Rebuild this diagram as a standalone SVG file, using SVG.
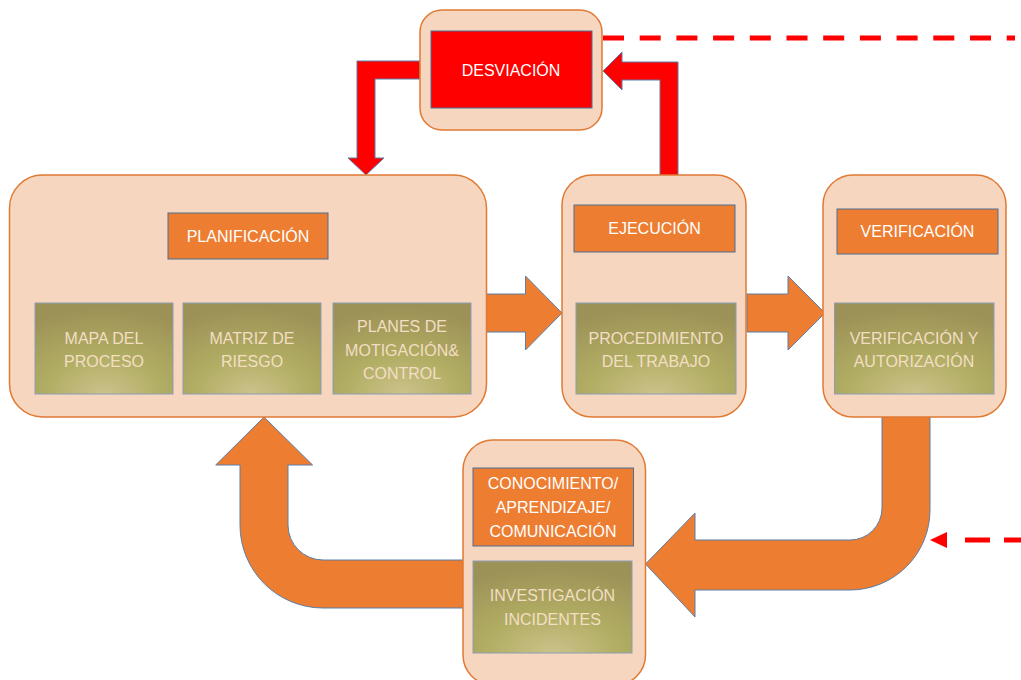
<svg xmlns="http://www.w3.org/2000/svg" width="1021" height="680" viewBox="0 0 1021 680">
<defs>
<radialGradient id="olive" cx="50%" cy="100%" r="95%" fx="50%" fy="100%">
<stop offset="0" stop-color="#CCC28B"/>
<stop offset="0.45" stop-color="#B1AD63"/>
<stop offset="1" stop-color="#9C9157"/>
</radialGradient>
<style>
.cont{fill:#F6D6BE;stroke:#E07A35;stroke-width:1.5}
.hdr{fill:#ED7D31;stroke:#4F6F96;stroke-width:1}
.sub{fill:url(#olive);stroke:#8C9DB5;stroke-width:1}
.oarr{fill:#ED7D31;stroke:#5B7FA8;stroke-width:1}
.rarr{fill:#FF0000;stroke:#5B7FA8;stroke-width:1}
.dash{fill:none;stroke:#FF0000;stroke-width:5}
text{font-family:"Liberation Sans",Arial,sans-serif;font-size:16px;text-anchor:middle}
.wt{fill:#FFFFFF}
.lt{fill:#F3DEC4}
</style>
</defs>
<rect width="1021" height="680" fill="#FFFFFF"/>
<g id="connectors">
<path class="dash" d="M603,38 L1015,38" stroke-dasharray="21 15.7"/>
<path class="dash" d="M1029,540 L951,540" stroke-dasharray="25 14"/>
<polygon points="930,540 947,532 947,548" fill="#FF0000"/>
<path class="rarr" d="M420,61 L357,61 L357,158 L348,158 L366,175 L384,158 L375,158 L375,79 L420,79 Z"/>
<path class="rarr" d="M660,176 L660,80 L622,80 L622,90 L603,71 L622,52 L622,62 L678,62 L678,176 Z"/>
<path class="oarr" d="M485,294 L525.5,294 L525.5,276 L562,313 L525.5,350 L525.5,332 L485,332 Z"/>
<path class="oarr" d="M747,294 L788,294 L788,276 L825,313 L788,350 L788,332 L747,332 Z"/>
<path class="oarr" d="M882,414 L930,414 L930,510 A80,80 0 0 1 850,590 L695,590 L695,617 L645.5,564 L695,513 L695,540 L850,540 A32,32 0 0 0 882,508 Z"/>
<path class="oarr" d="M470,560 L323,560 A35,35 0 0 1 288,525 L288,465 L312.6,465 L264,417 L215.7,465 L240,465 L240,525 A83,83 0 0 0 323,608 L470,608 Z"/>
</g>
<g id="desviacion">
<rect class="cont" x="420" y="10" width="182" height="120" rx="22"/>
<rect x="431" y="31" width="161" height="77" fill="#FF0000" stroke="#4F6F96" stroke-width="1"/>
<text class="wt" x="511" y="76">DESVIACIÓN</text>
</g>
<g id="planificacion">
<rect class="cont" x="9.5" y="175" width="477" height="242" rx="33"/>
<rect class="hdr" x="168" y="213" width="160" height="46"/>
<text class="wt" x="248" y="242">PLANIFICACIÓN</text>
<rect class="sub" x="35" y="303" width="138" height="91"/>
<text class="lt" x="104" y="344">MAPA DEL</text>
<text class="lt" x="104" y="367">PROCESO</text>
<rect class="sub" x="183" y="303" width="138" height="91"/>
<text class="lt" x="252" y="344">MATRIZ DE</text>
<text class="lt" x="252" y="367">RIESGO</text>
<rect class="sub" x="333" y="303" width="138" height="91"/>
<text class="lt" x="402" y="332">PLANES DE</text>
<text class="lt" x="402" y="356">MOTIGACIÓN&amp;</text>
<text class="lt" x="402" y="379">CONTROL</text>
</g>
<g id="ejecucion">
<rect class="cont" x="562" y="175" width="184" height="242" rx="30"/>
<rect class="hdr" x="574" y="205" width="161" height="47"/>
<text class="wt" x="654.5" y="234">EJECUCIÓN</text>
<rect class="sub" x="576" y="303" width="160" height="91"/>
<text class="lt" x="656" y="344">PROCEDIMIENTO</text>
<text class="lt" x="656" y="367">DEL TRABAJO</text>
</g>
<g id="verificacion">
<rect class="cont" x="823" y="175" width="183" height="242" rx="30"/>
<rect class="hdr" x="837" y="209" width="161" height="45"/>
<text class="wt" x="917.5" y="237">VERIFICACIÓN</text>
<rect class="sub" x="834.5" y="303" width="159.5" height="91"/>
<text class="lt" x="914" y="344">VERIFICACIÓN Y</text>
<text class="lt" x="914" y="367">AUTORIZACIÓN</text>
</g>
<g id="conocimiento">
<rect class="cont" x="463" y="440" width="182.5" height="245" rx="30"/>
<rect class="hdr" x="473" y="468" width="160.5" height="78"/>
<text class="wt" x="553" y="489">CONOCIMIENTO/</text>
<text class="wt" x="553" y="513">APRENDIZAJE/</text>
<text class="wt" x="553" y="537">COMUNICACIÓN</text>
<rect class="sub" x="473" y="561" width="159" height="92"/>
<text class="lt" x="552.5" y="601">INVESTIGACIÓN</text>
<text class="lt" x="552.5" y="625">INCIDENTES</text>
</g>
</svg>
